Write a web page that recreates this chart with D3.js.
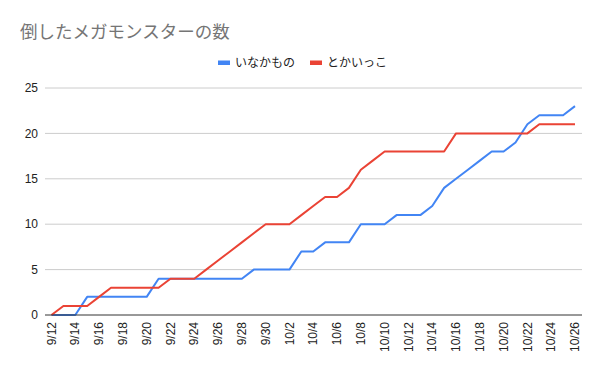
<!DOCTYPE html>
<html>
<head>
<meta charset="utf-8">
<script src="https://cdn.jsdelivr.net/npm/d3@7"></script>
<style>
  body { margin: 0; background: #fff; }
  text { font-family: "Liberation Sans", Arial, "Noto Sans CJK JP", sans-serif; }
</style>
</head>
<body>
<script>
// 日付 (9/12 〜 10/26)
const dates = [
  "9/12", "9/13", "9/14", "9/15", "9/16", "9/17", "9/18", "9/19", "9/20", "9/21",
  "9/22", "9/23", "9/24", "9/25", "9/26", "9/27", "9/28", "9/29", "9/30", "10/1",
  "10/2", "10/3", "10/4", "10/5", "10/6", "10/7", "10/8", "10/9", "10/10", "10/11",
  "10/12", "10/13", "10/14", "10/15", "10/16", "10/17", "10/18", "10/19", "10/20", "10/21",
  "10/22", "10/23", "10/24", "10/25", "10/26"
];

const inakamono = [
  0, 0, 0, 2, 2, 2, 2, 2, 2, 4,
  4, 4, 4, 4, 4, 4, 4, 5, 5, 5,
  5, 7, 7, 8, 8, 8, 10, 10, 10, 11,
  11, 11, 12, 14, 15, 16, 17, 18, 18, 19,
  21, 22, 22, 22, 23
];

const tokaikko = [
  0, 1, 1, 1, 2, 3, 3, 3, 3, 3,
  4, 4, 4, 5, 6, 7, 8, 9, 10, 10,
  10, 11, 12, 13, 13, 14, 16, 17, 18, 18,
  18, 18, 18, 18, 20, 20, 20, 20, 20, 20,
  20, 21, 21, 21, 21
];

const seriesNames = ["いなかもの", "とかいっこ"];
const colors = ["#4285f4", "#ea4335"];
const yTicks = [0, 5, 10, 15, 20, 25];

const width = 600;
const height = 371;
const margin = { top: 88, right: 18, bottom: 56, left: 45 };

const svg = d3.select("body")
  .append("svg")
  .attr("width", width)
  .attr("height", height);

// タイトル
svg.append("text")
  .attr("x", 20)
  .attr("y", 38)
  .attr("font-size", 17.5)
  .attr("fill", "#757575")
  .style("font-family", "'Noto Sans CJK JP', sans-serif")
  .text("倒したメガモンスターの数");

const x = d3.scalePoint()
  .domain(dates)
  .range([51.5, 575]);

const y = d3.scaleLinear()
  .domain([0, 25])
  .range([height - margin.bottom, margin.top]);

// グリッド
svg.append("g")
  .selectAll("line")
  .data(yTicks.filter((d) => d > 0))
  .enter()
  .append("line")
  .attr("x1", margin.left)
  .attr("x2", width - margin.right)
  .attr("y1", (d) => y(d))
  .attr("y2", (d) => y(d))
  .attr("stroke", "#cccccc")
  .attr("stroke-width", 1);

// Y軸ラベル
svg.append("g")
  .selectAll("text")
  .data(yTicks)
  .enter()
  .append("text")
  .attr("x", 38)
  .attr("y", (d) => y(d))
  .attr("dy", "0.35em")
  .attr("text-anchor", "end")
  .attr("font-size", 12)
  .attr("fill", "#222")
  .text((d) => d);

// 折れ線
const line = d3.line()
  .x((d, i) => x(dates[i]))
  .y((d) => y(d));

[inakamono, tokaikko].forEach((values, k) => {
  svg.append("path")
    .datum(values)
    .attr("fill", "none")
    .attr("stroke", colors[k])
    .attr("stroke-width", 2)
    .attr("stroke-linejoin", "round")
    .attr("d", line);
});

// X軸
svg.append("line")
  .attr("x1", margin.left)
  .attr("x2", width - margin.right)
  .attr("y1", y(0))
  .attr("y2", y(0))
  .attr("stroke", "#333")
  .attr("stroke-width", 1);

svg.append("g")
  .selectAll("text")
  .data(dates.filter((d, i) => i % 2 === 0))
  .enter()
  .append("text")
  .attr("transform", (d) => `translate(${x(d)},${y(0) + 7}) rotate(-90)`)
  .attr("dy", "0.35em")
  .attr("text-anchor", "end")
  .attr("font-size", 12)
  .attr("fill", "#222")
  .text((d) => d);

// 凡例
const legend = svg.append("g");
const legendX = [218, 310];
seriesNames.forEach((name, k) => {
  legend.append("rect")
    .attr("x", legendX[k])
    .attr("y", 60.5)
    .attr("width", 12)
    .attr("height", 4.5)
    .attr("fill", colors[k]);
  legend.append("text")
    .attr("x", legendX[k] + 17)
    .attr("y", 63)
    .attr("dy", "0.35em")
    .attr("font-size", 12)
    .attr("fill", "#222")
    .style("font-family", "'Noto Sans CJK JP', sans-serif")
    .text(name);
});
</script>
</body>
</html>
